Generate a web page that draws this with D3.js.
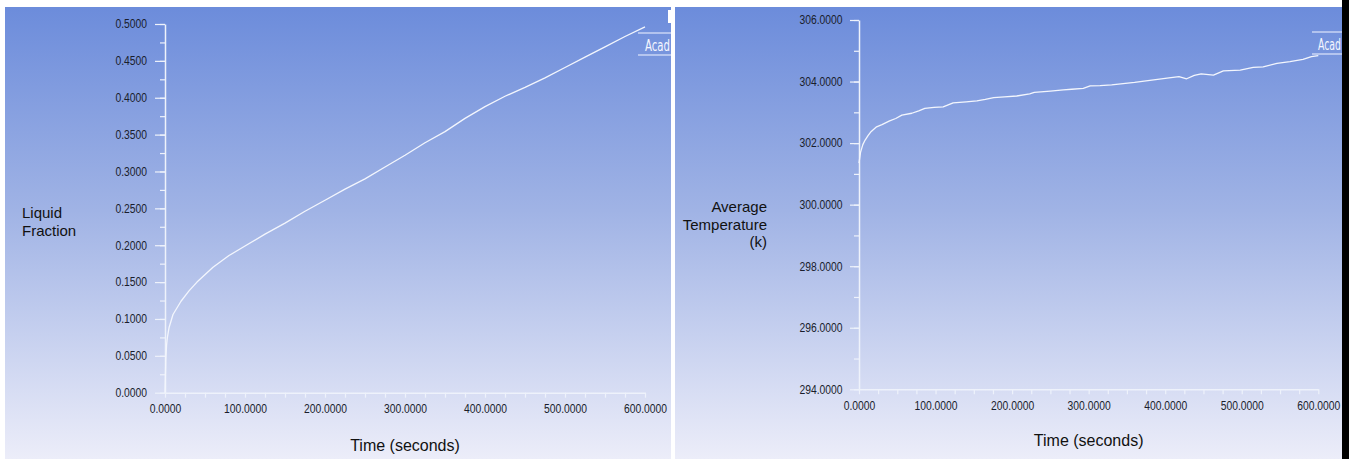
<!DOCTYPE html>
<html>
<head>
<meta charset="utf-8">
<script src="https://cdn.jsdelivr.net/npm/d3@7/dist/d3.min.js"></script>
<style>
  html, body { margin: 0; padding: 0; background: #ffffff; }
  svg { display: block; }
  .tick-label { font-family: "Liberation Sans", Arial, sans-serif; font-size: 12px; fill: #1a1d2c; }
  .title { font-family: "Liberation Sans", Arial, sans-serif; fill: #111111; }
  .stamp { font-family: "DejaVu Sans Condensed", "DejaVu Sans", sans-serif; font-size: 15px; fill: #f4f6ff; }
</style>
</head>
<body>
<svg id="chart" width="1353" height="459"></svg>
<script>
// Time axis (seconds)
const timeTicks = [0, 100, 200, 300, 400, 500, 600];
const timeMinorTicks = d3.range(0, 601, 25);

// Liquid fraction history
const fractionTicks = [0, 0.05, 0.1, 0.15, 0.2, 0.25, 0.3, 0.35, 0.4, 0.45, 0.5];
const fractionMinorTicks = d3.range(0, 0.5001, 0.025);
const fractionTime  = [0, 1, 2, 3, 5, 10, 20, 30, 40, 60, 80, 100, 125, 150, 175, 200, 225, 250, 275, 300, 325, 350, 375, 400, 425, 450, 475, 500, 525, 550, 575, 600];
const fractionValue = [0, 0.045, 0.065, 0.075, 0.088, 0.106, 0.124, 0.138, 0.150, 0.170, 0.186, 0.199, 0.215, 0.230, 0.246, 0.261, 0.276, 0.290, 0.306, 0.322, 0.339, 0.354, 0.372, 0.388, 0.402, 0.414, 0.427, 0.441, 0.455, 0.469, 0.483, 0.496];

// Average temperature history (K)
const temperatureTicks = [294, 296, 298, 300, 302, 304, 306];
const temperatureMinorTicks = d3.range(294, 306.001, 1);
const temperatureTime  = [0, 2, 5, 8, 12, 16, 23, 30, 40, 48, 56, 69, 78, 86, 98, 110, 123, 140, 154, 165, 176, 190, 206, 223, 229, 250, 267, 278, 293, 302, 315, 330, 345, 360, 375, 390, 405, 418, 428, 438, 447, 463, 476, 498, 515, 528, 546, 563, 580, 591, 600];
const temperatureValue = [301.35, 301.7, 301.95, 302.1, 302.25, 302.38, 302.53, 302.6, 302.72, 302.8, 302.91, 302.97, 303.05, 303.13, 303.16, 303.18, 303.31, 303.34, 303.37, 303.42, 303.48, 303.5, 303.53, 303.6, 303.65, 303.69, 303.73, 303.75, 303.78, 303.86, 303.87, 303.89, 303.93, 303.97, 304.02, 304.07, 304.12, 304.16, 304.09, 304.2, 304.25, 304.21, 304.35, 304.37, 304.46, 304.48, 304.59, 304.65, 304.72, 304.81, 304.84];

const svg = d3.select("#chart");
const defs = svg.append("defs");

const grad = defs.append("linearGradient")
  .attr("id", "panelBg").attr("x1", 0).attr("y1", 0).attr("x2", 0).attr("y2", 1);
grad.append("stop").attr("offset", "0%").attr("stop-color", "#6c8cdb");
grad.append("stop").attr("offset", "45%").attr("stop-color", "#a0b3e5");
grad.append("stop").attr("offset", "100%").attr("stop-color", "#ecedf9");

const fmt = d3.format(".4f");

// narrow the tick numbers a little, like a condensed face
function condense(sel, k) {
  sel.each(function () {
    const w = this.getComputedTextLength();
    if (w > 0) {
      d3.select(this).attr("textLength", (w * k).toFixed(1)).attr("lengthAdjust", "spacingAndGlyphs");
    }
  });
}

function drawPanel(cfg) {
  const clipId = "clip-" + cfg.id;
  defs.append("clipPath").attr("id", clipId)
    .append("rect").attr("x", cfg.box[0]).attr("y", cfg.box[1])
    .attr("width", cfg.box[2] - cfg.box[0]).attr("height", cfg.box[3] - cfg.box[1]);

  const g = svg.append("g").attr("clip-path", `url(#${clipId})`);
  g.append("rect")
    .attr("x", cfg.box[0]).attr("y", cfg.box[1])
    .attr("width", cfg.box[2] - cfg.box[0]).attr("height", cfg.box[3] - cfg.box[1])
    .attr("fill", "url(#panelBg)");

  const x = d3.scaleLinear().domain([0, 600]).range(cfg.xRange);
  const y = d3.scaleLinear().domain(cfg.yDomain).range(cfg.yRange);

  // y axis: minor ticks, then major ticks with labels
  const yMinor = g.append("g").attr("transform", `translate(${cfg.xRange[0]},0)`)
    .call(d3.axisLeft(y).tickValues(cfg.yMinor).tickSize(cfg.minorLen).tickSizeOuter(0).tickFormat(""));
  const yMajor = g.append("g").attr("transform", `translate(${cfg.xRange[0]},0)`)
    .call(d3.axisLeft(y).tickValues(cfg.yTicks).tickSize(cfg.majorLen).tickSizeOuter(0)
      .tickPadding(cfg.yPad).tickFormat(fmt));

  // x axis: ticks every 25 s, labels every 100 s
  const xAxis = g.append("g").attr("transform", `translate(0,${cfg.yRange[0]})`)
    .call(d3.axisBottom(x).tickValues(timeMinorTicks).tickSize(5).tickSizeOuter(0)
      .tickPadding(7).tickFormat(d => timeTicks.includes(d) ? fmt(d) : ""));

  [yMinor, yMajor, xAxis].forEach(a => {
    a.selectAll("path.domain").attr("stroke", "#eef2fb").attr("stroke-width", 1.5);
    a.selectAll(".tick line").attr("stroke", "#eef2fb").attr("stroke-width", 1.2);
    a.selectAll(".tick text").attr("class", "tick-label").attr("fill", null)
      .attr("font-size", null).attr("font-family", null);
  });
  yMinor.select("path.domain").remove();
  condense(yMajor.selectAll(".tick text"), 0.86);
  condense(xAxis.selectAll(".tick text"), 0.86);

  // data curve
  const line = d3.line().x(d => x(d[0])).y(d => y(d[1]));
  g.append("path")
    .datum(d3.zip(cfg.time, cfg.values))
    .attr("d", line)
    .attr("fill", "none")
    .attr("stroke", "#f3f6fd")
    .attr("stroke-width", 1.3)
    .attr("stroke-linejoin", "round");

  // axis titles
  g.append("text").attr("class", "title")
    .attr("x", (cfg.xRange[0] + cfg.xRange[1]) / 2).attr("y", cfg.xTitleY)
    .attr("text-anchor", "middle").attr("font-size", 16)
    .text("Time (seconds)");

  const yt = g.append("text").attr("class", "title")
    .attr("text-anchor", cfg.yTitleAnchor).attr("font-size", 15);
  cfg.yTitle.forEach((s, i) => {
    yt.append("tspan").attr("x", cfg.yTitleX).attr("y", cfg.yTitleY[i]).text(s);
  });

  // product stamp at the top-right corner
  const sx = cfg.box[2];
  g.append("line").attr("x1", sx - cfg.stampW).attr("x2", sx).attr("y1", cfg.stampY - 14).attr("y2", cfg.stampY - 14)
    .attr("stroke", "#dfe6fb").attr("stroke-width", 1.5).attr("opacity", 0.8);
  g.append("line").attr("x1", sx - cfg.stampW).attr("x2", sx).attr("y1", cfg.stampY + 8).attr("y2", cfg.stampY + 8)
    .attr("stroke", "#dfe6fb").attr("stroke-width", 1.5).attr("opacity", 0.8);
  g.append("text").attr("class", "stamp")
    .attr("x", sx - 1).attr("y", cfg.stampY + 4)
    .attr("text-anchor", "end")
    .attr("textLength", cfg.stampText).attr("lengthAdjust", "spacingAndGlyphs")
    .text("Acad");
}

drawPanel({
  id: "fraction",
  box: [5, 7, 671, 459],
  xRange: [165, 645],
  yDomain: [0, 0.5],
  yRange: [392.7, 24],
  yTicks: fractionTicks,
  yMinor: fractionMinorTicks,
  majorLen: 10, minorLen: 5, yPad: 8,
  time: fractionTime, values: fractionValue,
  xTitleY: 451,
  yTitle: ["Liquid", "Fraction"],
  yTitleX: 22, yTitleAnchor: "start", yTitleY: [218, 236],
  stampW: 33, stampY: 47, stampText: 25
});

drawPanel({
  id: "temperature",
  box: [675, 7, 1342, 459],
  xRange: [859, 1318.3],
  yDomain: [294, 306],
  yRange: [389.3, 20],
  yTicks: temperatureTicks,
  yMinor: temperatureMinorTicks,
  majorLen: 9, minorLen: 5, yPad: 7.5,
  time: temperatureTime, values: temperatureValue,
  xTitleY: 446,
  yTitle: ["Average", "Temperature", "(k)"],
  yTitleX: 767, yTitleAnchor: "end", yTitleY: [212, 230, 247],
  stampW: 30, stampY: 46, stampText: 23
});

// small white marker at the left panel's top-right edge
svg.append("rect").attr("x", 668).attr("y", 10).attr("width", 3).attr("height", 13).attr("fill", "#ffffff");
// dark frame strip on the far right
svg.append("rect").attr("x", 1342).attr("y", 0).attr("width", 7).attr("height", 459).attr("fill", "#000000");
</script>
</body>
</html>
